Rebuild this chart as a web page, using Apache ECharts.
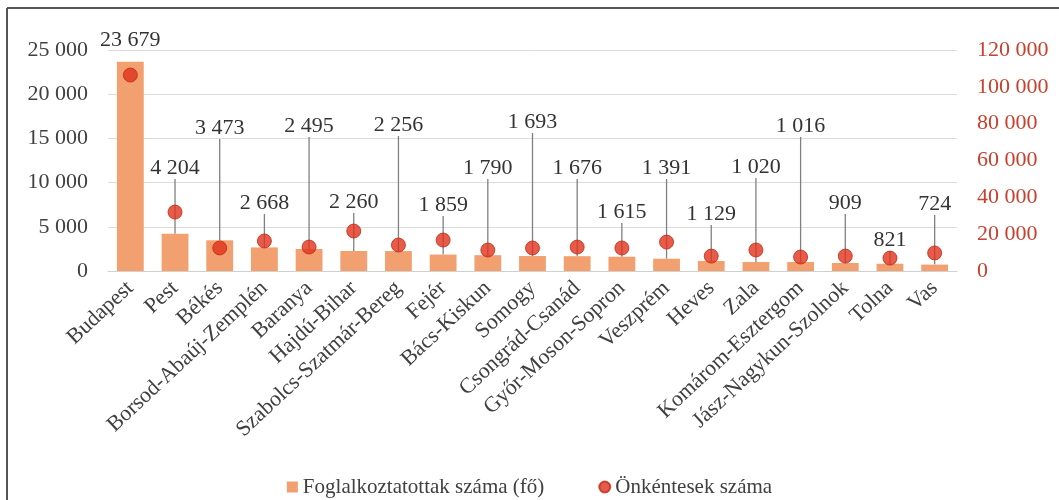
<!DOCTYPE html>
<html lang="hu">

<head>
    <meta charset="UTF-8">
    <title>Foglalkoztatottak és önkéntesek</title>
    <style>
        html, body { margin: 0; padding: 0; background: #fff; }
    </style>
</head>

<body>
    <div id="main" style="width: 1059px;height: 500px;"></div>
    <script src="https://cdn.jsdelivr.net/npm/echarts@6/dist/echarts.min.js"></script>
    <script>
        var counties = ['Budapest', 'Pest', 'Békés', 'Borsod-Abaúj-Zemplén', 'Baranya', 'Hajdú-Bihar',
            'Szabolcs-Szatmár-Bereg', 'Fejér', 'Bács-Kiskun', 'Somogy', 'Csongrád-Csanád', 'Győr-Moson-Sopron',
            'Veszprém', 'Heves', 'Zala', 'Komárom-Esztergom', 'Jász-Nagykun-Szolnok', 'Tolna', 'Vas'];
        var employed = [23679, 4204, 3473, 2668, 2495, 2260, 2256, 1859, 1790, 1693, 1676, 1615, 1391, 1129, 1020, 1016, 909, 821, 724];
        var volunteers = [106400, 32000, 12500, 16300, 13000, 21700, 14100, 16800, 11400, 12500, 13000, 12500, 15700, 8100, 11400, 7600, 8100, 7000, 9800];
        var leftTicks = [0, 5000, 10000, 15000, 20000, 25000];
        var rightTicks = [0, 20000, 40000, 60000, 80000, 100000, 120000];

        // where each value label sits (pixel y of label centre)
        var labelY = [40, 168, 128, 203, 126, 202, 125, 205, 168, 122, 168, 212, 168, 214, 167, 126, 203, 240, 204];

        function fmt(v) {
            return String(v).replace(/\B(?=(\d{3})+(?!\d))/g, ' ');
        }

        var font = 'Liberation Serif';
        var chart = echarts.init(document.getElementById('main'));
        chart.setOption({
            animation: false,
            textStyle: { fontFamily: font },
            grid: { left: 108, right: 102, top: 50, bottom: 229 },
            graphic: [
                { type: 'line', shape: { x1: 7, y1: 8, x2: 1059, y2: 8 }, style: { stroke: '#555', lineWidth: 2 } },
                { type: 'line', shape: { x1: 7, y1: 8, x2: 7, y2: 500 }, style: { stroke: '#555', lineWidth: 2 } }
            ],
            legend: {
                top: 470,
                left: 'center',
                itemGap: 54,
                itemWidth: 11,
                itemHeight: 11,
                itemStyle: {},
                textStyle: { fontFamily: font, fontSize: 21, color: '#404040', lineHeight: 24 },
                data: [
                    { name: 'Foglalkoztatottak száma (fő)', icon: 'rect' },
                    { name: 'Önkéntesek száma', icon: 'circle' }
                ]
            },
            xAxis: {
                type: 'category',
                data: counties,
                axisTick: { show: false },
                axisLine: { lineStyle: { color: '#d0d0d0' } },
                axisLabel: {
                    interval: 0,
                    rotate: 43,
                    margin: 14,
                    fontSize: 22,
                    color: '#404040',
                    fontFamily: font
                }
            },
            yAxis: [
                {
                    type: 'value',
                    min: leftTicks[0],
                    max: leftTicks[leftTicks.length - 1],
                    interval: leftTicks[1] - leftTicks[0],
                    axisLine: { show: false },
                    axisTick: { show: false },
                    splitLine: { lineStyle: { color: '#dcdcdc' } },
                    axisLabel: { formatter: fmt, fontSize: 22, margin: 20, color: '#404040', fontFamily: font }
                },
                {
                    type: 'value',
                    min: rightTicks[0],
                    max: rightTicks[rightTicks.length - 1],
                    interval: rightTicks[1] - rightTicks[0],
                    axisLine: { show: false },
                    axisTick: { show: false },
                    splitLine: { show: false },
                    axisLabel: { formatter: fmt, fontSize: 22, margin: 20, color: '#c8412e', fontFamily: font }
                }
            ],
            series: [
                {
                    name: 'Foglalkoztatottak száma (fő)',
                    type: 'bar',
                    barWidth: '60%',
                    yAxisIndex: 0,
                    itemStyle: { color: '#f2a070' },
                    data: employed.map(function (v, i) {
                        return i === 0 ? { value: v, labelLine: { show: false } } : v;
                    }),
                    label: {
                        show: true,
                        position: 'top',
                        fontSize: 22,
                        color: '#333',
                        fontFamily: font,
                        formatter: function (p) { return fmt(p.value); }
                    },
                    labelLine: {
                        show: true,
                        lineStyle: { color: '#808080', width: 1.3 }
                    },
                    labelLayout: function (p) {
                        return { y: labelY[p.dataIndex], verticalAlign: 'middle', align: 'center' };
                    }
                },
                {
                    name: 'Önkéntesek száma',
                    type: 'scatter',
                    yAxisIndex: 1,
                    symbol: 'circle',
                    symbolSize: 14,
                    z: 5,
                    itemStyle: { color: '#e0321c', borderColor: '#c02a15', borderWidth: 1 },
                    data: volunteers
                }
            ]
        });
    </script>
</body>

</html>
